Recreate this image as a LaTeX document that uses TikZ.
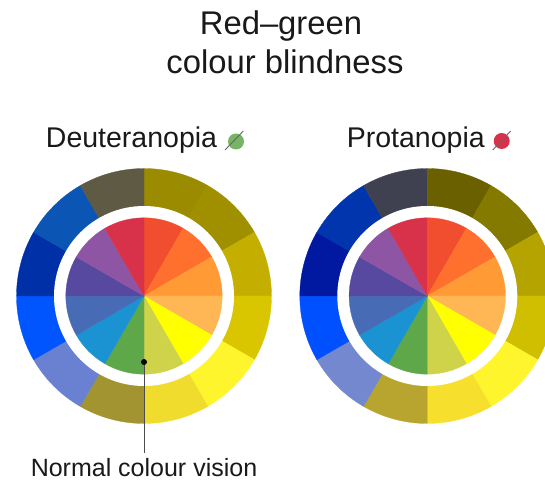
\documentclass[tikz,border=0pt]{standalone}
\usepackage{fontspec}
\setmainfont{Liberation Sans}
\definecolor{ia}{HTML}{F04E2F}\definecolor{ib}{HTML}{FF6F2D}\definecolor{ic}{HTML}{FF9A35}
\definecolor{id}{HTML}{FFB755}\definecolor{ie}{HTML}{FFFF00}\definecolor{if}{HTML}{CFD34A}
\definecolor{ig}{HTML}{5FA84A}\definecolor{ih}{HTML}{1B93D2}\definecolor{ii}{HTML}{476CB5}
\definecolor{ij}{HTML}{5849A0}\definecolor{ik}{HTML}{8E55A5}\definecolor{il}{HTML}{D8324A}
\definecolor{da}{HTML}{9B8B00}\definecolor{db}{HTML}{A09000}\definecolor{dc}{HTML}{C4AE00}
\definecolor{dd}{HTML}{DAC600}\definecolor{de}{HTML}{FFF52D}\definecolor{df}{HTML}{F0DC2D}
\definecolor{dg}{HTML}{A39432}\definecolor{dh}{HTML}{6A80D0}\definecolor{di}{HTML}{0055FF}
\definecolor{dj}{HTML}{0030A8}\definecolor{dk}{HTML}{0B56B4}\definecolor{dl}{HTML}{5E5A44}
\definecolor{pa}{HTML}{6B6000}\definecolor{pb}{HTML}{857A00}\definecolor{pc}{HTML}{B5A400}
\definecolor{pd}{HTML}{D0BE00}\definecolor{pe}{HTML}{FFF52D}\definecolor{pf}{HTML}{F7E02D}
\definecolor{pg}{HTML}{B8A530}\definecolor{ph}{HTML}{7488CF}\definecolor{pi}{HTML}{0050FF}
\definecolor{pj}{HTML}{0019A0}\definecolor{pk}{HTML}{0035AE}\definecolor{pl}{HTML}{3F4150}
\newcommand{\pie}[4]{%
  \foreach \c [count=\i from 0] in {#4} {
    \pgfmathsetmacro\aa{90-30*\i}
    \pgfmathsetmacro\bb{60-30*\i}
    \fill[fill=\c,draw=\c,line width=0.3pt] (#1,#2) -- ++(\aa:#3) arc[start angle=\aa,end angle=\bb,radius=#3] -- cycle;
  }
}
\newcommand{\wheel}[3]{%
  \pie{#1}{#2}{127.5}{#3}
  \fill[white] (#1,#2) circle[radius=90];
  \pie{#1}{#2}{78.2}{ia,ib,ic,id,ie,if,ig,ih,ii,ij,ik,il}
}
\tikzset{
  labeltext/.style={font=\fontsize{28.5}{30}\selectfont,text=black!90,inner sep=0,anchor=base},
  titletext/.style={font=\fontsize{32.8}{36}\selectfont,text=black!90,inner sep=0,anchor=base},
  notetext/.style={font=\fontsize{25}{28}\selectfont,text=black!90,inner sep=0,anchor=base},
  leader/.style={draw=black!70,line width=1pt},
  slash/.style={draw=black!60,line width=0.9pt}
}
\begin{document}
\begin{tikzpicture}[x=1pt,y=1pt]
\useasboundingbox (0,0) rectangle (545,481);
\clip (0,0) rectangle (545,481);
\wheel{144}{185}{da,db,dc,dd,de,df,dg,dh,di,dj,dk,dl}
\wheel{427.3}{185}{pa,pb,pc,pd,pe,pf,pg,ph,pi,pj,pk,pl}
\node[titletext] (t1) at (281,446) {Red–green};
\node[titletext] (t2) at (285,407) {colour blindness};
\node[labeltext] (deut) at (131.5,333.5) {Deuteranopia};
\node[labeltext] (prot) at (415.8,333.5) {Protanopia};
\fill[ig!85!white] (236,339.5) circle[radius=8];
\draw[slash] (225,331) -- (243.3,350);
\fill[il] (501.7,340) circle[radius=8];
\draw[slash] (492.7,331) -- (510.7,350);
\node[circle,fill=black,inner sep=0,minimum size=6pt] (dot) at (144,119) {};
\node[notetext] (note) at (144,5) {Normal colour vision};
\coordinate (leadend) at (144,28);
\draw[leader] (dot) -- (leadend);
\end{tikzpicture}
\end{document}
